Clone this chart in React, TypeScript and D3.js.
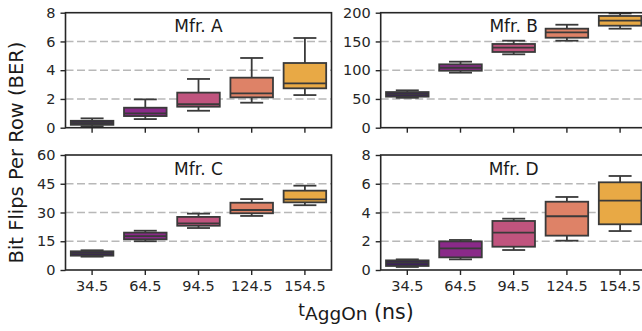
import React, { useEffect, useRef } from 'react';
import * as d3 from 'd3';

// box stats per tAggOn: [min, q1, median, q3, max]
const categories = ['34.5', '64.5', '94.5', '124.5', '154.5'];

const mfrA = [
  [0.1, 0.2, 0.33, 0.48, 0.65],
  [0.6, 0.81, 1.0, 1.39, 1.97],
  [1.18, 1.46, 1.63, 2.44, 3.39],
  [1.74, 2.11, 2.39, 3.48, 4.85],
  [2.27, 2.74, 3.09, 4.5, 6.24],
];
const mfrB = [
  [52, 54, 58, 62, 65],
  [95.7, 99.1, 104.3, 110.2, 114.8],
  [127.6, 131.7, 139.1, 145.6, 151.3],
  [151.3, 156.5, 165.9, 172.2, 179.1],
  [172.2, 177.4, 186.1, 194.3, 198.8],
];
const mfrC = [
  [6.96, 7.48, 8.7, 9.76, 10.3],
  [15.0, 16.0, 17.7, 19.5, 20.5],
  [21.9, 23.1, 24.3, 27.7, 29.4],
  [28.2, 29.6, 31.3, 35.1, 37.0],
  [33.8, 35.3, 36.9, 41.4, 44.0],
];
const mfrD = [
  [0.21, 0.28, 0.51, 0.67, 0.74],
  [0.74, 0.88, 1.5, 1.99, 2.09],
  [1.39, 1.62, 2.6, 3.41, 3.57],
  [2.04, 2.39, 3.74, 4.75, 5.08],
  [2.71, 3.18, 4.82, 6.1, 6.54],
];

const ticksA = [0, 2, 4, 6, 8];
const ticksB = [0, 50, 100, 150, 200];
const ticksC = [0, 15, 30, 45, 60];
const ticksD = [0, 2, 4, 6, 8];

const colors = ['#3b2158', '#8a2a89', '#c0547e', '#de8267', '#e8a945'];

const FONT = '"DejaVu Sans", sans-serif';
const PW = 266;
const PH = 115;

const panels = [
  { title: 'Mfr. A', data: mfrA, ticks: ticksA, x: 65.5, y: 12.7, xLabels: false },
  { title: 'Mfr. B', data: mfrB, ticks: ticksB, x: 380.7, y: 12.7, xLabels: false },
  { title: 'Mfr. C', data: mfrC, ticks: ticksC, x: 65.5, y: 155, xLabels: true },
  { title: 'Mfr. D', data: mfrD, ticks: ticksD, x: 380.7, y: 155, xLabels: true },
];

const Chart: React.FC = () => {
  const svgRef = useRef<SVGSVGElement | null>(null);

  useEffect(() => {
    if (!svgRef.current) return;
    const svg = d3.select(svgRef.current);
    svg.selectAll('*').remove();

    panels.forEach((p) => {
      const g = svg.append('g').attr('transform', `translate(${p.x},${p.y})`);
      const x = d3.scaleBand().domain(categories).range([0, PW]);
      const y = d3.scaleLinear().domain([0, p.ticks[p.ticks.length - 1]]).range([PH, 0]);
      const bw = x.bandwidth() * 0.8;

      // dashed grid
      g.selectAll('line.grid')
        .data(p.ticks.slice(1, -1))
        .enter()
        .append('line')
        .attr('x1', 0)
        .attr('x2', PW)
        .attr('y1', (d) => y(d))
        .attr('y2', (d) => y(d))
        .attr('stroke', '#b8b8b8')
        .attr('stroke-width', 1.5)
        .attr('stroke-dasharray', '8,3.5');

      // boxes
      p.data.forEach((s, i) => {
        const cx = (x(categories[i]) as number) + x.bandwidth() / 2;
        const [mn, q1, md, q3, mx] = s;
        const stroke = '#3a3a3a';
        const sw = 1.8;
        g.append('line')
          .attr('x1', cx).attr('x2', cx)
          .attr('y1', y(mx)).attr('y2', y(q3))
          .attr('stroke', stroke).attr('stroke-width', sw);
        g.append('line')
          .attr('x1', cx).attr('x2', cx)
          .attr('y1', y(q1)).attr('y2', y(mn))
          .attr('stroke', stroke).attr('stroke-width', sw);
        [mn, mx].forEach((v) => {
          g.append('line')
            .attr('x1', cx - bw * 0.27).attr('x2', cx + bw * 0.27)
            .attr('y1', y(v)).attr('y2', y(v))
            .attr('stroke', stroke).attr('stroke-width', sw);
        });
        g.append('rect')
          .attr('x', cx - bw / 2)
          .attr('y', y(q3))
          .attr('width', bw)
          .attr('height', y(q1) - y(q3))
          .attr('fill', colors[i])
          .attr('stroke', stroke)
          .attr('stroke-width', sw);
        g.append('line')
          .attr('x1', cx - bw / 2).attr('x2', cx + bw / 2)
          .attr('y1', y(md)).attr('y2', y(md))
          .attr('stroke', stroke).attr('stroke-width', sw);
      });

      // frame
      g.append('rect')
        .attr('width', PW)
        .attr('height', PH)
        .attr('fill', 'none')
        .attr('stroke', '#262626')
        .attr('stroke-width', 1.6);

      // y axis
      const yAxis = g.append('g')
        .call(d3.axisLeft(y).tickValues(p.ticks).tickSize(5).tickPadding(5).tickFormat(d3.format('d')));
      yAxis.select('.domain').remove();
      yAxis.selectAll('line').attr('stroke', '#262626').attr('stroke-width', 1.4);
      yAxis.selectAll('text')
        .attr('fill', '#262626')
        .style('font-family', FONT)
        .style('font-size', '14.5px');

      // x axis
      const xAxis = g.append('g')
        .attr('transform', `translate(0,${PH})`)
        .call(d3.axisBottom(x).tickSize(5).tickPadding(6).tickFormat((d) => (p.xLabels ? d : '')));
      xAxis.select('.domain').remove();
      xAxis.selectAll('line').attr('stroke', '#262626').attr('stroke-width', 1.4);
      xAxis.selectAll('text')
        .attr('fill', '#262626')
        .style('font-family', FONT)
        .style('font-size', '14.5px');

      g.append('text')
        .attr('x', PW / 2)
        .attr('y', 19.6)
        .attr('text-anchor', 'middle')
        .attr('fill', '#1a1a1a')
        .style('font-family', FONT)
        .style('font-size', '17px')
        .text(p.title);
    });

    // y title
    svg.append('text')
      .attr('transform', 'translate(22.5,152.5) rotate(-90)')
      .attr('text-anchor', 'middle')
      .attr('fill', '#1a1a1a')
      .style('font-family', FONT)
      .style('font-size', '19.5px')
      .text('Bit Flips Per Row (BER)');

    // x title
    const xt = svg.append('text')
      .attr('x', 356)
      .attr('y', 316)
      .attr('text-anchor', 'middle')
      .attr('fill', '#1a1a1a')
      .style('font-family', FONT);
    xt.append('tspan').style('font-size', '17px').text('t');
    xt.append('tspan').attr('dy', 3.5).style('font-size', '18.5px').text('AggOn');
    xt.append('tspan').attr('dy', -1).style('font-size', '20.5px').text(' (ns)');

    return () => { svg.selectAll('*').remove(); };
  }, []);

  return <svg ref={svgRef} width={642} height={331} style={{ display: 'block' }} />;
};

export default function App() {
  useEffect(() => {
    document.body.style.margin = '0';
  }, []);
  return <Chart />;
}
